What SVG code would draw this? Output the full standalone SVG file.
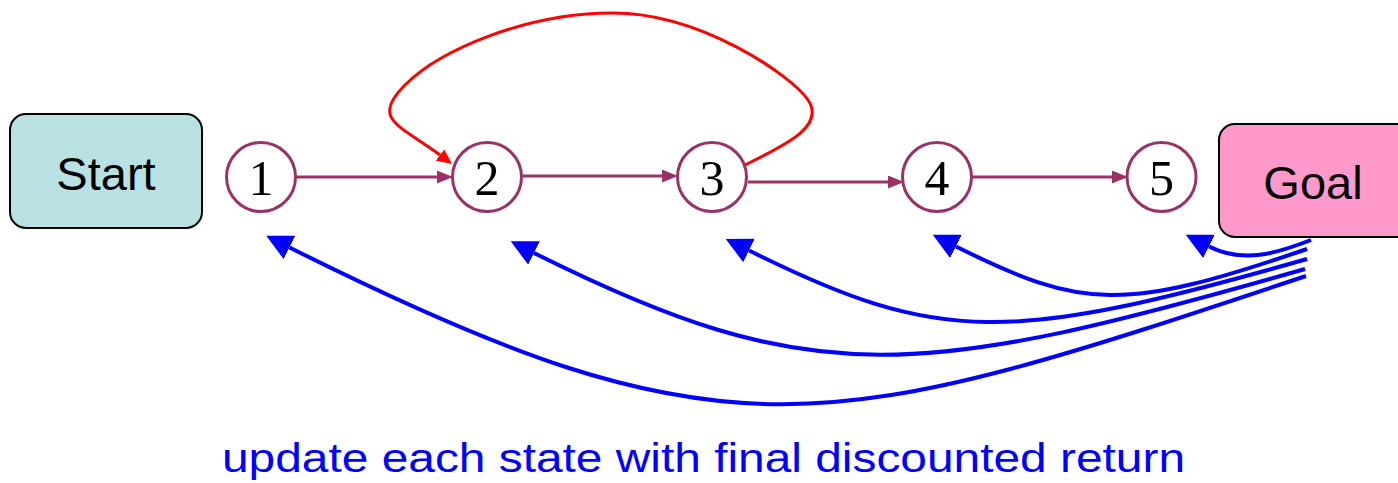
<svg xmlns="http://www.w3.org/2000/svg" width="1398" height="483" viewBox="0 0 1398 483">
  <style>
    .box { stroke: #000; stroke-width: 2; }
    .label { font-family: "Liberation Sans", Arial, sans-serif; font-size: 47px; fill: #000; text-anchor: middle; }
    .state { fill: #fff; stroke: #993366; stroke-width: 3; }
    .num { font-family: "Liberation Serif", "Times New Roman", serif; font-size: 50px; fill: #000; text-anchor: middle; }
    .step { fill: none; stroke: #993366; stroke-width: 3; marker-end: url(#headPurple); }
    .loop { fill: none; stroke: #ff0000; stroke-width: 3; marker-end: url(#headRed); }
    .back { fill: none; stroke: #0000ff; stroke-width: 4; marker-end: url(#headBlue); }
    .caption { font-family: "Liberation Sans", Arial, sans-serif; font-size: 41px; fill: #0000ff; }
  </style>
  <defs>
    <marker id="headPurple" markerUnits="userSpaceOnUse" markerWidth="16" markerHeight="13" refX="0" refY="6.5" orient="auto">
      <path d="M0,0 L16,6.5 L0,13 z" fill="#993366"/>
    </marker>
    <marker id="headRed" markerUnits="userSpaceOnUse" markerWidth="15" markerHeight="14" refX="0" refY="7" orient="auto">
      <path d="M0,0 L15,7 L0,14 z" fill="#ff0000"/>
    </marker>
    <marker id="headBlue" markerUnits="userSpaceOnUse" markerWidth="26" markerHeight="26" refX="0" refY="13" orient="auto">
      <path d="M0,0 L26,13 L0,26 z" fill="#0000ff"/>
    </marker>
  </defs>

  <rect width="1398" height="483" fill="#fff"/>

  <!-- terminal boxes -->
  <g id="start">
    <rect class="box" x="10" y="114" width="192" height="114" rx="16" fill="#b9e0e3"/>
    <text class="label" x="106" y="190">Start</text>
  </g>
  <g id="goal">
    <rect class="box" x="1219" y="124" width="200" height="113" rx="16" fill="#ff99cc"/>
    <text class="label" x="1313" y="199">Goal</text>
  </g>

  <!-- states -->
  <g id="s1">
    <circle class="state" cx="261" cy="177" r="34.5"/>
    <text class="num" x="261" y="195">1</text>
  </g>
  <g id="s2">
    <circle class="state" cx="487" cy="177" r="34.5"/>
    <text class="num" x="487" y="195">2</text>
  </g>
  <g id="s3">
    <circle class="state" cx="712" cy="177" r="34.5"/>
    <text class="num" x="712" y="195">3</text>
  </g>
  <g id="s4">
    <circle class="state" cx="937" cy="177" r="34.5"/>
    <text class="num" x="937" y="195">4</text>
  </g>
  <g id="s5">
    <circle class="state" cx="1161.5" cy="177" r="34.5"/>
    <text class="num" x="1161.5" y="195">5</text>
  </g>

  <!-- connectors -->
  <g id="connectors">
    <path class="step" d="M296,177 L437,177"/>
    <path class="step" d="M522,176 L662,176"/>
    <path class="step" d="M748,182 L888,182"/>
    <path class="step" d="M972,177 L1112,177"/>

    <path class="loop" d="M745,165 C790,143 825,125 808,100 S700,13 613,13 S440,50 405,85 S400,125 440,155"/>

    <path class="back" d="M1311,240 C1280,252 1245,264.5 1209,246.5"/>
    <path class="back" d="M1307,249 C1124,312 1082,309.5 956,246.5"/>
    <path class="back" d="M1307,259 C1009,344 939,345 749,250.5"/>
    <path class="back" d="M1305,269 C920,379 814,393 534,253"/>
    <path class="back" d="M1306,276 C826,436 729.5,467.5 289.5,247.5"/>
  </g>

  <text class="caption" x="222" y="472" textLength="963" lengthAdjust="spacingAndGlyphs">update each state with final discounted return</text>
</svg>
